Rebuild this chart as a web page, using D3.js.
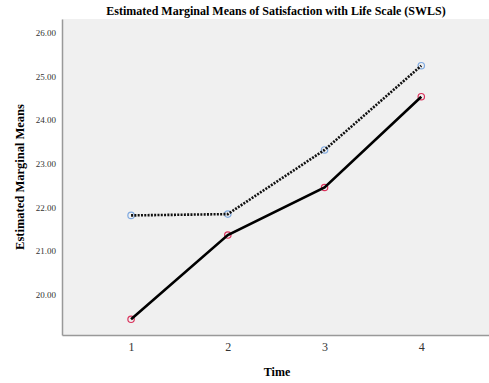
<!DOCTYPE html>
<html>
<head>
<meta charset="utf-8">
<script src="https://cdn.jsdelivr.net/npm/d3@7"></script>
<style>
  body { margin: 0; background: #fff; }
  text { font-family: "Liberation Serif", "Times New Roman", serif; }
</style>
</head>
<body>
<div id="chart"></div>
<script>
// time points and the two group series
var times = [1, 2, 3, 4];
var groupDotted = [21.81, 21.84, 23.31, 25.24];
var groupSolid = [19.43, 21.36, 22.45, 24.53];
var yTicks = [20, 21, 22, 23, 24, 25, 26];

var W = 489, H = 383;
var margin = { top: 19, right: 0, bottom: 48, left: 62 },
  width = W - margin.left - margin.right,
  height = H - margin.top - margin.bottom;

var svg = d3.select("#chart").append("svg")
  .attr("width", W)
  .attr("height", H);

var g = svg.append("g")
  .attr("transform", "translate(" + margin.left + "," + margin.top + ")");

var x = d3.scaleLinear().domain([0.286, 4.70]).range([0, width]);
var y = d3.scaleLinear().domain([19.07, 26.31]).range([height, 0]);

// plot background
g.append("rect")
  .attr("width", width)
  .attr("height", height)
  .attr("fill", "#f0f0f0");

// axes
var yAxis = g.append("g")
  .call(d3.axisLeft(y).tickValues(yTicks).tickSize(0).tickPadding(6).tickFormat(d3.format(".2f")));
var xAxis = g.append("g")
  .attr("transform", "translate(0," + height + ")")
  .call(d3.axisBottom(x).tickValues(times).tickSize(0).tickPadding(7).tickFormat(d3.format("d")));

[yAxis, xAxis].forEach(function (a) {
  a.select(".domain").attr("stroke", "#999").attr("stroke-width", 1.5);
  a.selectAll("text")
    .style("font-family", "'Liberation Serif', serif")
    .attr("fill", "#333");
});
yAxis.selectAll("text").style("font-size", "9px");
xAxis.selectAll("text").style("font-size", "12px");

var points = function (vals) {
  return vals.map(function (v, i) { return [times[i], v]; });
};
var line = d3.line()
  .x(function (d) { return x(d[0]); })
  .y(function (d) { return y(d[1]); });

// markers
g.selectAll(".mDot").data(points(groupDotted)).enter().append("circle")
  .attr("cx", function (d) { return x(d[0]); })
  .attr("cy", function (d) { return y(d[1]); })
  .attr("r", 3.2)
  .attr("fill", "none")
  .attr("stroke", "#7fa9e0")
  .attr("stroke-width", 1.2);
g.selectAll(".mSolid").data(points(groupSolid)).enter().append("circle")
  .attr("cx", function (d) { return x(d[0]); })
  .attr("cy", function (d) { return y(d[1]); })
  .attr("r", 3.2)
  .attr("fill", "none")
  .attr("stroke", "#d9325c")
  .attr("stroke-width", 1.2);

// lines
g.append("path")
  .datum(points(groupDotted))
  .attr("fill", "none")
  .attr("stroke", "#111")
  .attr("stroke-width", 2.6)
  .attr("stroke-dasharray", "2,1.3")
  .attr("d", line);
g.append("path")
  .datum(points(groupSolid))
  .attr("fill", "none")
  .attr("stroke", "#000")
  .attr("stroke-width", 2.6)
  .attr("d", line);

// titles
svg.append("text")
  .attr("x", 276)
  .attr("y", 15)
  .attr("text-anchor", "middle")
  .style("font-size", "12px")
  .style("font-weight", "bold")
  .text("Estimated Marginal Means of Satisfaction with Life Scale (SWLS)");

svg.append("text")
  .attr("transform", "translate(24," + (margin.top + height / 2) + ") rotate(-90)")
  .attr("text-anchor", "middle")
  .style("font-size", "12.5px")
  .style("font-weight", "bold")
  .text("Estimated Marginal Means");

svg.append("text")
  .attr("x", 277)
  .attr("y", 376)
  .attr("text-anchor", "middle")
  .style("font-size", "12px")
  .style("font-weight", "bold")
  .text("Time");
</script>
</body>
</html>
